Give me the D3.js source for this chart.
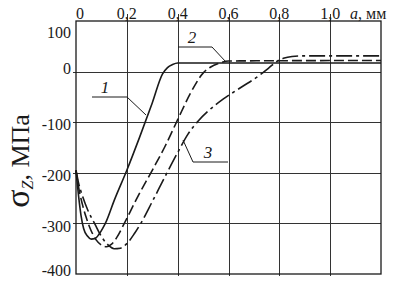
<!DOCTYPE html>
<html>
<head>
<meta charset="utf-8">
<script src="https://cdn.jsdelivr.net/npm/d3@7"></script>
<style>
  body { margin: 0; background: #fff; }
  svg { display: block; }
</style>
</head>
<body>
<div id="chart"></div>
<script>
// data: a (mm) vs sigma_z (MPa)
const xTicks = [0, 0.2, 0.4, 0.6, 0.8, 1.0];
const xTickLabels = ["0", "0,2", "0,4", "0,6", "0,8", "1,0"];
const yTicks = [100, 0, -100, -200, -300, -400];

const curve1 = [[0, -195], [0.01, -245], [0.02, -285], [0.03, -310], [0.045, -325], [0.06, -331],
  [0.075, -330], [0.09, -322], [0.105, -310], [0.12, -295], [0.15, -255], [0.2, -195], [0.25, -130],
  [0.3, -62], [0.34, -5], [0.36, 8], [0.38, 14], [0.4, 17], [1.2, 17]];
const curve2 = [[0, -195], [0.01, -228], [0.025, -262], [0.04, -288], [0.06, -315], [0.08, -333],
  [0.1, -343], [0.12, -346], [0.14, -341], [0.16, -328], [0.19, -300], [0.24, -250], [0.3, -195],
  [0.35, -148], [0.4, -95], [0.45, -43], [0.5, -3], [0.53, 9], [0.56, 16], [0.6, 21], [1.2, 22]];
const curve3 = [[0, -195], [0.01, -220], [0.025, -245], [0.045, -272], [0.075, -302], [0.1, -326],
  [0.125, -342], [0.15, -350], [0.175, -349], [0.2, -340], [0.23, -320], [0.255, -300], [0.3, -257],
  [0.35, -208], [0.4, -160], [0.44, -124], [0.48, -98], [0.52, -78], [0.58, -54], [0.65, -31],
  [0.72, -8], [0.76, 8], [0.79, 20], [0.82, 27], [0.85, 30], [0.88, 31], [1.2, 31]];

const curveNames = ["1", "2", "3"];

const W = 397, H = 284;
const margin = { top: 21, right: 16, bottom: 10, left: 76 };

const svg = d3.select("#chart").append("svg")
  .attr("width", W)
  .attr("height", H);

const x = d3.scaleLinear().domain([0, 1.2]).range([margin.left, W - margin.right]);
const y = d3.scaleLinear().domain([-400, 100]).range([H - margin.bottom, margin.top]);

const font = "'Liberation Serif', 'Times New Roman', serif";
const ink = "#1a1a1a";

// grid
const grid = svg.append("g").attr("stroke", "#333").attr("stroke-width", 1);
grid.selectAll(".vg")
  .data(xTicks.slice(1))
  .enter().append("line")
  .attr("x1", d => Math.round(x(d)) + 0.5).attr("x2", d => Math.round(x(d)) + 0.5)
  .attr("y1", y(100) - 7).attr("y2", y(-400) + 2);
grid.selectAll(".hg")
  .data([0, -100, -200, -300])
  .enter().append("line")
  .attr("x1", x(0) - 3).attr("x2", x(1.2))
  .attr("y1", d => Math.round(y(d)) + 0.5).attr("y2", d => Math.round(y(d)) + 0.5);

// frame
svg.append("rect")
  .attr("x", x(0)).attr("y", y(100))
  .attr("width", x(1.2) - x(0)).attr("height", y(-400) - y(100))
  .attr("fill", "none").attr("stroke", ink).attr("stroke-width", 1.3);

// top tick labels
svg.append("g").selectAll("text")
  .data(xTicks)
  .enter().append("text")
  .attr("x", (d, i) => x(d) + (i === 0 ? 4 : 0))
  .attr("y", 19)
  .attr("text-anchor", "middle")
  .attr("font-family", font).attr("font-size", 16).attr("fill", ink)
  .text((d, i) => xTickLabels[i]);

const aLab = svg.append("text")
  .attr("x", 350).attr("y", 19)
  .attr("font-family", font).attr("font-size", 16).attr("fill", ink);
aLab.append("tspan").attr("font-style", "italic").text("a");
aLab.append("tspan").text(", мм");

// left tick labels
svg.append("g").selectAll("text")
  .data(yTicks)
  .enter().append("text")
  .attr("x", 71)
  .attr("y", (d, i) => y(d) + (i === 0 ? 11 : i === 1 ? -3 : i === yTicks.length - 1 ? -4 : 2.5))
  .attr("dy", "0.35em")
  .attr("text-anchor", "end")
  .attr("font-family", font).attr("font-size", 16).attr("fill", ink)
  .text(d => String(d));

// y title
const yt = svg.append("text")
  .attr("transform", "translate(29,161) rotate(-90)")
  .attr("text-anchor", "middle")
  .attr("font-family", font).attr("fill", ink);
yt.append("tspan").attr("font-size", 34).text("σ");
yt.append("tspan").attr("font-size", 16).attr("font-style", "italic").attr("dy", 4).text("Z");
yt.append("tspan").attr("font-size", 26).attr("dy", -4).text(", МПа");

// curves
const line = d3.line()
  .x(d => x(d[0]))
  .y(d => y(d[1]))
  .curve(d3.curveMonotoneX);

const series = [
  { data: curve1, dash: null },
  { data: curve2, dash: "10,4" },
  { data: curve3, dash: "16,4,3,4" }
];

svg.append("g").selectAll("path")
  .data(series)
  .enter().append("path")
  .attr("d", d => line(d.data))
  .attr("fill", "none")
  .attr("stroke", ink)
  .attr("stroke-width", 1.6)
  .attr("stroke-dasharray", d => d.dash);

// curve labels with leaders
const leaders = [
  [[92, 97], [127, 97], [146, 115]],
  [[178, 47], [212, 47], [226, 62]],
  [[183, 140], [193, 162], [228, 162]]
];
const labelPos = [[105, 93], [192, 43], [208, 158]];

svg.append("g").selectAll("path")
  .data(leaders)
  .enter().append("path")
  .attr("d", d => d3.line()(d))
  .attr("fill", "none").attr("stroke", ink).attr("stroke-width", 1);

svg.append("g").selectAll("text")
  .data(curveNames)
  .enter().append("text")
  .attr("x", (d, i) => labelPos[i][0])
  .attr("y", (d, i) => labelPos[i][1])
  .attr("text-anchor", "middle")
  .attr("font-family", font).attr("font-size", 17).attr("font-style", "italic").attr("fill", ink)
  .text(d => d);
</script>
</body>
</html>
